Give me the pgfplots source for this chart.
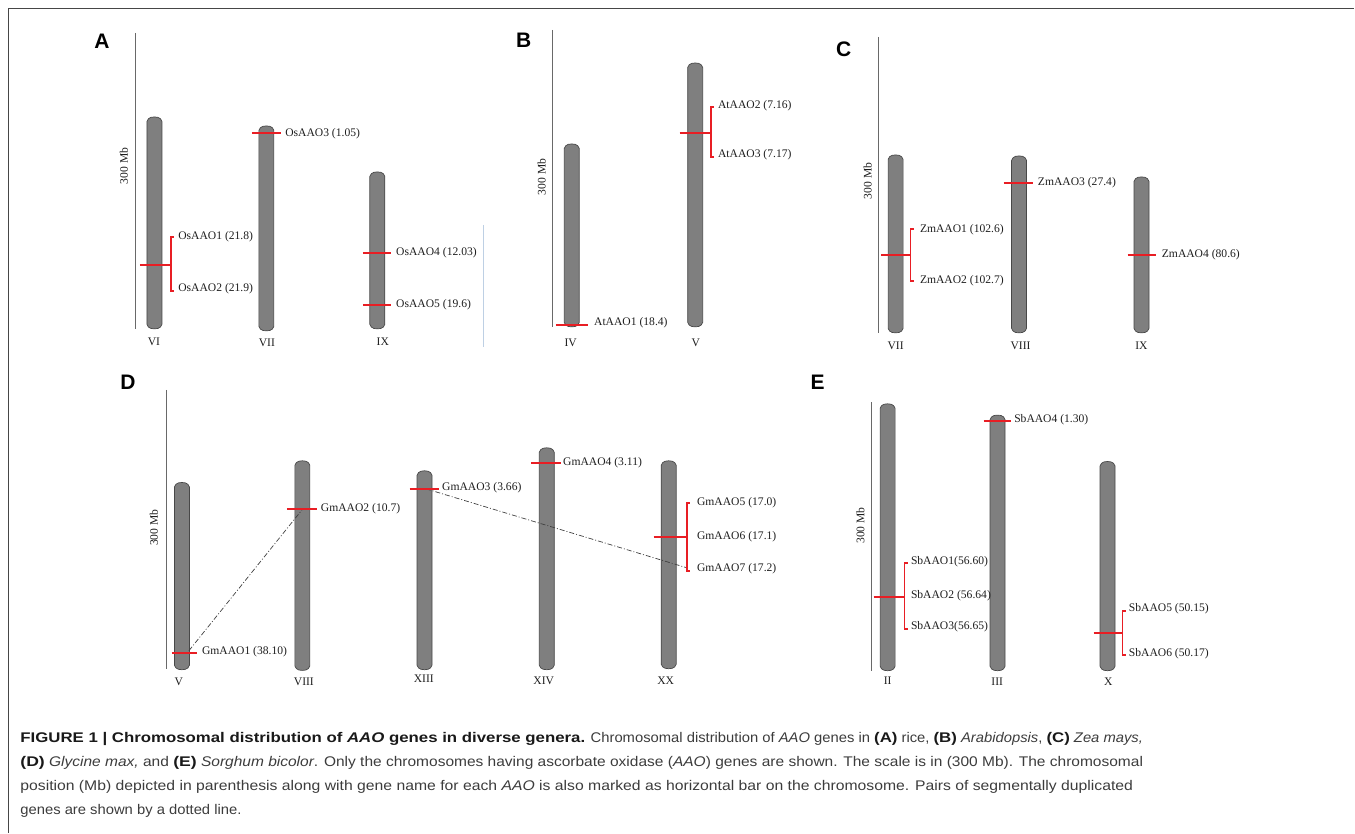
\documentclass[border=0pt]{standalone}
\usepackage{pgfplots}
\pgfplotsset{compat=1.18}
\usepackage{fontspec}
\usepackage{graphicx}
\setmainfont{Liberation Serif}
\newfontfamily\capreg[FakeStretch=0.88]{Liberation Sans}
\newfontfamily\capbf{Liberation Sans}
\definecolor{chrfill}{RGB}{127,127,127}
\definecolor{chrdraw}{RGB}{72,72,72}
\definecolor{genered}{RGB}{232,30,36}
\definecolor{scalegray}{RGB}{105,105,105}
\definecolor{framegray}{RGB}{70,70,70}
\definecolor{captxt}{RGB}{60,60,60}
\definecolor{capbold}{RGB}{25,25,25}
\definecolor{faintblue}{RGB}{190,208,228}
\definecolor{labtxt}{RGB}{30,30,30}
\newsavebox\capLa\newsavebox\capLb\newsavebox\capLc\newsavebox\capLd
\newcommand\B[1]{{\capbf\bfseries\color{capbold}#1}}
% chromosome: centre x, top y, bottom y (pixel units, y downwards)
\newcommand\chrom[3]{%
  \pgfmathsetmacro\xl{#1-7.5}\pgfmathsetmacro\xr{#1+7.5}%
  \pgfmathsetmacro\xa{#1-6}\pgfmathsetmacro\xb{#1-3.5}%
  \pgfmathsetmacro\xc{#1+3.5}\pgfmathsetmacro\xd{#1+6}%
  \pgfmathsetmacro\ta{#2+4.5}\pgfmathsetmacro\tb{#2+1.8}\pgfmathsetmacro\tc{#2+0.4}%
  \pgfmathsetmacro\ba{#3-4.5}\pgfmathsetmacro\bb{#3-1.8}\pgfmathsetmacro\bc{#3-0.4}%
  \addplot[fill=chrfill,draw=chrdraw,line width=0.35pt,line join=round] coordinates
   {(\xl,\ta)(\xa,\tb)(\xb,\tc)(#1,#2)(\xc,\tc)(\xd,\tb)(\xr,\ta)
    (\xr,\ba)(\xd,\bb)(\xc,\bc)(#1,#3)(\xb,\bc)(\xa,\bb)(\xl,\ba)(\xl,\ta)};%
}
% single gene marker: x1, x2, y
\newcommand\gene[3]{\addplot[draw=genered,color=genered,line width=1pt] coordinates {(#1,#3)(#2,#3)};}
% bracket: x, ytop, ybottom
\newcommand\brk[3]{%
  \pgfmathsetmacro\xe{#1+3}%
  \addplot[draw=genered,color=genered,line width=0.85pt] coordinates {(\xe,#2)(#1,#2)(#1,#3)(\xe,#3)};}
% gene label
\newcommand\glab[3]{\node[anchor=west,inner sep=0pt,text=labtxt,font=\fontsize{5.8pt}{7pt}\selectfont] at (axis cs:#1,#2) {#3};}
% chromosome name
\newcommand\clab[3]{\node[inner sep=0pt,text=labtxt,font=\fontsize{5.8pt}{7pt}\selectfont] at (axis cs:#1,#2) {#3};}
% scale bar
\newcommand\scalebar[5]{% x, ytop, ybot, textx, texty
  \addplot[scalegray,line width=0.5pt] coordinates {(#1,#2)(#1,#3)};
  \node[rotate=90,inner sep=0pt,text=labtxt,font=\fontsize{5.8pt}{7pt}\selectfont] at (axis cs:#4,#5) {300 Mb};}
\newcommand\plet[3]{\node[inner sep=0pt,font=\capbf\bfseries\fontsize{10.5pt}{12pt}\selectfont] at (axis cs:#1,#2) {#3};}

\begin{document}%
\sbox\capLa{\capreg\fontsize{7pt}{8pt}\selectfont\color{captxt}\B{FIGURE 1 | Chromosomal distribution of \textit{AAO} genes in diverse genera.} Chromosomal distribution of \textit{AAO} genes in \B{(A)} rice, \B{(B)} \textit{Arabidopsis}, \B{(C)} \textit{Zea mays,}}%
\sbox\capLb{\capreg\fontsize{7pt}{8pt}\selectfont\color{captxt}\B{(D)} \textit{Glycine max,} and \B{(E)} \textit{Sorghum bicolor}. Only the chromosomes having ascorbate oxidase (\textit{AAO}) genes are shown. The scale is in (300 Mb). The chromosomal}%
\sbox\capLc{\capreg\fontsize{7pt}{8pt}\selectfont\color{captxt}position (Mb) depicted in parenthesis along with gene name for each \textit{AAO} is also marked as horizontal bar on the chromosome. Pairs of segmentally duplicated}%
\sbox\capLd{\capreg\fontsize{7pt}{8pt}\selectfont\color{captxt}genes are shown by a dotted line.}%
\pgfmathsetmacro\capscale{561.5/\wd\capLa}%
\begin{tikzpicture}
\begin{axis}[at={(0,0)},anchor=south west,scale only axis,width=677.5pt,height=416.5pt,
  xmin=0,xmax=1355,ymin=0,ymax=833,y dir=reverse,hide axis,clip=false]
% frame
\addplot[framegray,line width=0.6pt] coordinates {(8.3,833)(8.3,8.5)(1355,8.5)};
\addplot[faintblue,line width=0.4pt] coordinates {(483.3,225)(483.3,347)};
% ---------- Panel A
\plet{102}{41}{A}
\scalebar{135.5}{33}{329}{124}{166}
\chrom{154.5}{117}{329}
\chrom{266.5}{126}{331}
\chrom{377.5}{172}{329}
\clab{154}{342}{VI}\clab{267}{343}{VII}\clab{383}{342}{IX}
\gene{140}{171}{265}\brk{171}{237}{291}
\glab{178}{237}{OsAAO1 (21.8)}\glab{178}{289}{OsAAO2 (21.9)}
\gene{252}{281}{133}\glab{285}{133.5}{OsAAO3 (1.05)}
\gene{363}{391}{253}\glab{396}{253}{OsAAO4 (12.03)}
\gene{363}{391}{305}\glab{396}{305}{OsAAO5 (19.6)}
% ---------- Panel B
\plet{524}{40}{B}
\scalebar{553}{30}{327}{542}{177}
\chrom{572}{144}{327}
\chrom{695.5}{63}{327}
\clab{571}{343}{IV}\clab{696}{343}{V}
\gene{556}{588}{325}\glab{594}{323}{AtAAO1 (18.4)}
\gene{680}{711}{133}\brk{711}{107}{157}
\glab{718}{106}{AtAAO2 (7.16)}\glab{718}{155}{AtAAO3 (7.17)}
% ---------- Panel C
\plet{844}{49}{C}
\scalebar{878.7}{37}{333}{868}{181}
\chrom{896}{155}{333}
\chrom{1019.5}{156}{333}
\chrom{1142}{177}{333}
\clab{896}{346}{VII}\clab{1021}{346}{VIII}\clab{1142}{346}{IX}
\gene{881.7}{911}{255}\brk{911}{229}{281}
\glab{920}{229.5}{ZmAAO1 (102.6)}\glab{920}{281}{ZmAAO2 (102.7)}
\gene{1004}{1033}{183}\glab{1038}{183}{ZmAAO3 (27.4)}
\gene{1128}{1157}{255}\glab{1162}{255}{ZmAAO4 (80.6)}
% ---------- Panel D
\plet{128}{382}{D}
\scalebar{166.3}{390}{669}{154}{528}
\chrom{182}{482.7}{670}
\chrom{302.5}{461}{670.7}
\chrom{424.7}{471}{670}
\chrom{547}{448}{670}
\chrom{669}{461}{669}
\clab{179}{682}{V}\clab{304}{682}{VIII}\clab{424}{679}{XIII}\clab{544}{681}{XIV}\clab{666}{681}{XX}
\addplot[black!75,line width=0.35pt,dash pattern=on 2.5pt off 1pt on 0.5pt off 1pt] coordinates {(189,651)(303,509)};
\addplot[black!75,line width=0.35pt,dash pattern=on 2.5pt off 1pt on 0.5pt off 1pt] coordinates {(426,489)(687,568)};
\gene{172}{197}{653}\glab{201.7}{652.3}{GmAAO1 (38.10)}
\gene{287}{317}{509}\glab{320.7}{509.3}{GmAAO2 (10.7)}
\gene{409.7}{438.7}{489}\glab{442}{488}{GmAAO3 (3.66)}
\gene{531.7}{561}{463}\glab{563}{462.7}{GmAAO4 (3.11)}
\gene{654}{687}{537}\brk{687}{503}{571}
\glab{697}{503.3}{GmAAO5 (17.0)}\glab{697}{537.3}{GmAAO6 (17.1)}\glab{697}{569.3}{GmAAO7 (17.2)}
% ---------- Panel E
\plet{818}{382}{E}
\scalebar{872}{402.3}{671.7}{860.7}{525.7}
\chrom{888}{404}{671}
\chrom{998}{415.3}{671}
\chrom{1108}{461.7}{671}
\clab{888}{680.7}{II}\clab{997.7}{681.7}{III}\clab{1108.7}{681.7}{X}
\gene{984}{1011.3}{421}\glab{1014.3}{420}{SbAAO4 (1.30)}
\gene{874}{905}{597}\brk{905}{563}{629}
\glab{911}{562.3}{SbAAO1(56.60)}\glab{911}{596}{SbAAO2 (56.64)}\glab{911}{627.3}{SbAAO3(56.65)}
\gene{1094}{1123}{633}\brk{1123}{611}{655}
\glab{1129}{608.7}{SbAAO5 (50.15)}\glab{1129}{654}{SbAAO6 (50.17)}
% ---------- caption
\node[anchor=base west,inner sep=0pt] at (axis cs:20,743) {\resizebox{561.5pt}{\height}{\usebox\capLa}};
\node[anchor=base west,inner sep=0pt] at (axis cs:20,767) {\resizebox{561.5pt}{\height}{\usebox\capLb}};
\node[anchor=base west,inner sep=0pt] at (axis cs:20,791) {\resizebox{556.5pt}{\height}{\usebox\capLc}};
\node[anchor=base west,inner sep=0pt] at (axis cs:20,815) {\scalebox{\capscale}[1]{\usebox\capLd}};
\end{axis}
\path (current axis.south west) rectangle (current axis.north east);
\end{tikzpicture}%
\end{document}
